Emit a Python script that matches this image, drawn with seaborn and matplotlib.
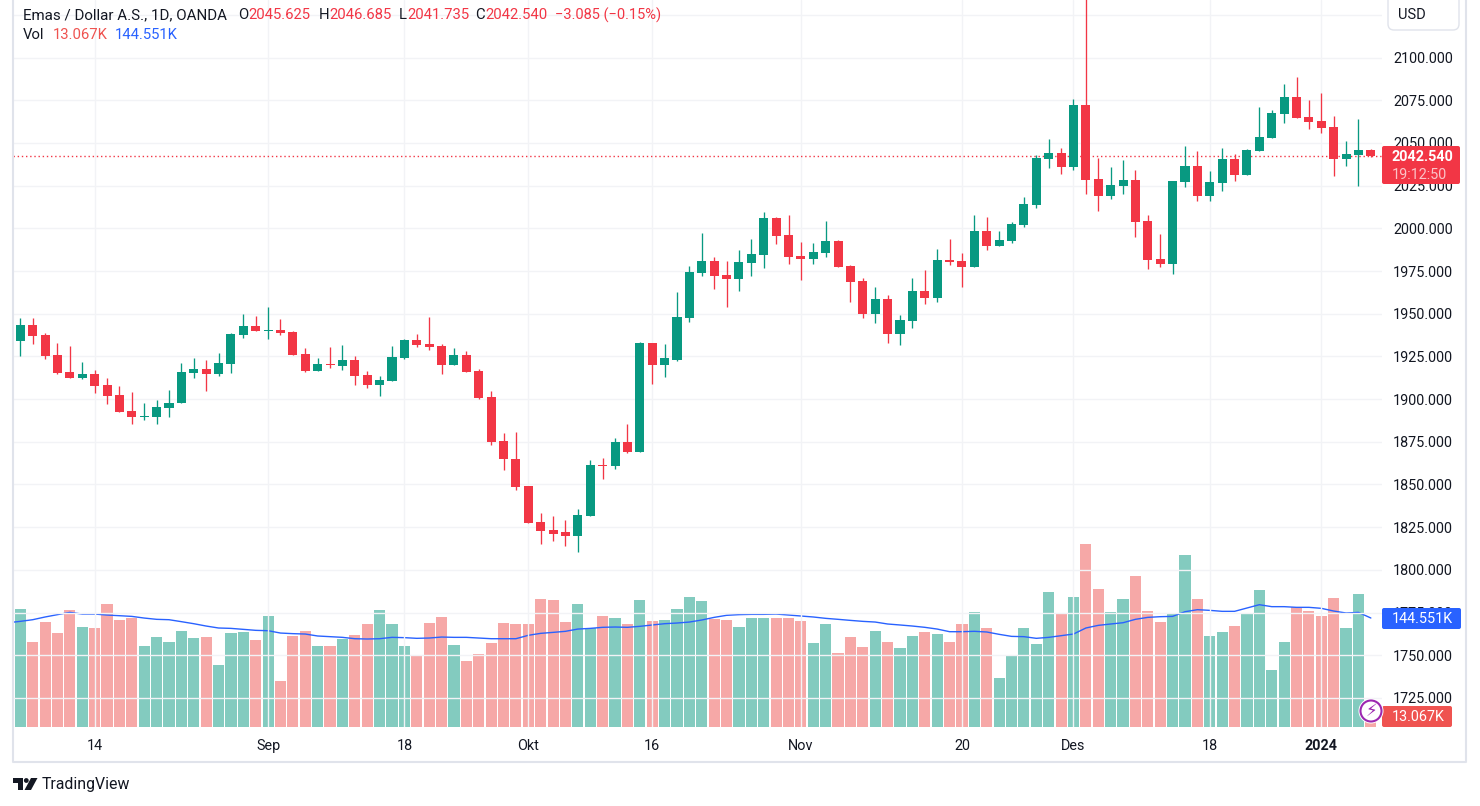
import numpy as np
import pandas as pd
import matplotlib
matplotlib.use("Agg")
import matplotlib.pyplot as plt
from matplotlib.patches import FancyBboxPatch, Circle, Polygon
import seaborn as sns

opens = [1933.8,1943.2,1937.3,1925.6,1915.6,1912.1,1914.5,1908.0,1902.2,1892.8,
         1889.3,1889.3,1894.5,1897.5,1915.0,1917.4,1914.5,1920.3,1937.3,1942.6,
         1939.6,1940.2,1939.1,1926.2,1916.2,1920.3,1919.1,1922.7,1913.9,1908.0,
         1910.4,1923.8,1934.4,1932.0,1930.9,1919.7,1925.6,1916.2,1901.0,1875.2,
         1865.2,1849.4,1828.3,1823.1,1821.9,1820.1,1831.8,1861.7,1860.6,1874.6,
         1868.8,1932.6,1919.7,1923.0,1947.5,1973.8,1980.9,1972.7,1970.3,1979.7,
         1984.4,2006.1,1996.1,1983.8,1982.0,1985.5,1992.6,1977.9,1969.1,1949.8,
         1958.6,1938.1,1945.7,1963.3,1959.2,1981.4,1980.9,1977.3,1998.4,1989.6,
         1992.6,2002.0,2013.7,2040.6,2044.1,2035.9,2072.3,2028.9,2019.0,2024.8,
         2028.3,2004.3,1982.0,1979.1,2027.2,2036.5,2019.0,2026.6,2040.6,2031.3,
         2045.3,2052.9,2067.0,2077.0,2065.2,2062.9,2059.4,2040.6,2043.0,2045.625]
closes = [1943.2,1936.7,1925.0,1915.0,1912.1,1914.5,1907.4,1901.6,1892.2,1889.3,
          1889.9,1895.1,1898.0,1915.6,1917.4,1914.5,1920.9,1937.9,1942.6,1939.6,
          1940.2,1938.5,1925.6,1916.2,1920.3,1919.7,1922.7,1913.3,1908.0,1910.9,
          1924.4,1934.4,1931.4,1930.3,1919.7,1925.6,1915.6,1900.4,1874.6,1864.7,
          1848.8,1827.7,1822.5,1821.3,1820.1,1832.4,1861.7,1860.6,1874.6,1868.8,
          1932.6,1919.7,1923.8,1948.0,1974.4,1980.9,1972.1,1970.3,1980.3,1985.0,
          2006.1,1995.5,1983.2,1982.0,1986.1,1992.6,1977.3,1968.6,1949.8,1958.6,
          1938.1,1946.3,1963.3,1959.2,1981.4,1980.3,1977.3,1998.4,1989.6,1993.2,
          2002.5,2014.3,2041.2,2044.1,2035.9,2072.3,2028.3,2019.0,2025.4,2028.3,
          2003.7,1981.5,1979.1,2027.7,2036.5,2019.0,2027.2,2040.6,2031.3,2045.9,
          2053.5,2067.6,2077.0,2064.6,2062.3,2058.8,2040.6,2043.6,2045.9,2042.54]
highs = [1947.3,1947.3,1938.5,1932.6,1930.9,1921.5,1916.8,1912.1,1907.4,1903.9,
         1897.5,1899.2,1905.1,1920.9,1923.8,1922.7,1926.8,1938.5,1949.6,1948.4,
         1953.7,1946.7,1939.6,1929.7,1923.8,1930.3,1931.4,1925.0,1916.2,1913.3,
         1930.9,1935.0,1937.9,1947.9,1932.0,1929.7,1927.9,1917.4,1904.5,1879.9,
         1880.5,1849.4,1833.6,1831.3,1829.5,1835.4,1864.1,1865.8,1877.5,1885.7,
         1933.2,1932.6,1932.0,1962.7,1977.9,1997.3,1983.2,1980.9,1987.3,1993.8,
         2009.6,2006.6,2007.8,1992.0,1991.4,2004.3,1993.2,1978.5,1970.9,1965.6,
         1960.9,1949.2,1970.9,1975.6,1987.9,1993.8,1985.6,2007.8,2006.6,1998.4,
         2003.7,2018.4,2043.0,2052.3,2047.1,2075.8,2135.0,2041.2,2035.9,2040.0,
         2034.2,2007.8,1996.7,2027.7,2048.2,2045.3,2033.6,2047.1,2043.6,2046.5,
         2071.1,2069.3,2084.6,2088.7,2075.2,2079.3,2065.8,2051.2,2064.1,2046.685]
lows = [1925.0,1932.0,1923.2,1914.5,1912.1,1911.5,1903.3,1896.9,1892.2,1885.7,
        1887.5,1885.2,1889.8,1897.5,1912.1,1904.5,1913.3,1915.0,1935.5,1939.6,
        1935.0,1937.3,1925.6,1915.6,1916.2,1918.0,1916.8,1908.0,1906.3,1901.6,
        1910.4,1923.2,1930.3,1928.5,1914.5,1919.7,1915.6,1899.8,1872.9,1858.2,
        1846.5,1827.7,1815.4,1817.2,1813.7,1810.7,1831.8,1853.5,1858.8,1868.2,
        1868.8,1908.6,1912.7,1922.5,1945.1,1972.1,1964.5,1953.9,1963.3,1972.1,
        1976.8,1990.8,1979.1,1969.7,1979.1,1983.2,1977.3,1956.8,1947.5,1944.5,
        1932.8,1931.6,1941.6,1955.7,1956.8,1978.5,1965.6,1977.3,1987.3,1989.6,
        1991.4,2000.8,2011.9,2035.4,2031.8,2034.2,2020.1,2010.2,2017.2,2020.1,
        1994.9,1976.2,1977.3,1973.2,2024.2,2016.0,2016.0,2021.9,2027.7,2031.3,
        2045.3,2052.9,2061.7,2064.6,2058.2,2055.9,2030.7,2036.5,2024.8,2041.735]
# volume in thousands
volumes = [156.0,112.3,138.8,124.2,154.7,132.2,130.8,162.7,141.4,144.1,
           107.0,118.9,112.3,126.9,117.6,118.9,81.8,124.2,125.5,114.9,
           146.7,60.6,120.2,126.9,107.0,107.0,116.2,121.6,136.1,154.7,
           136.1,107.0,93.7,137.5,145.4,108.3,87.1,96.4,110.9,137.5,
           136.1,136.1,169.3,168.0,138.8,162.7,130.8,146.7,144.1,136.1,
           168.0,140.1,141.4,156.0,171.9,166.6,142.8,141.4,132.2,144.1,
           144.1,144.1,144.1,140.1,110.9,136.1,97.7,118.9,105.6,126.9,
           112.3,104.3,120.2,125.5,122.9,112.3,136.1,152.0,130.8,64.5,
           93.7,130.8,109.6,178.6,150.7,171.9,242.2,182.5,152.0,169.3,
           199.8,153.4,138.8,150.7,227.6,169.3,120.2,125.5,133.5,150.7,
           181.2,75.1,112.3,158.7,153.4,146.7,170.6,130.8,175.9,13.067]
vol_ma = [140.1,142.3,145.9,149.0,152.0,149.8,149.8,148.5,147.6,146.7,
          144.5,142.8,142.3,139.7,137.0,133.9,131.3,130.8,129.5,128.2,
          127.7,124.6,123.8,123.3,120.7,119.8,118.9,117.1,116.7,117.1,
          118.9,118.5,117.6,118.0,119.3,118.9,118.9,118.0,117.1,117.1,
          117.1,121.6,124.2,125.5,126.9,129.9,130.8,132.2,132.6,132.2,
          133.5,135.3,137.0,137.9,139.2,141.9,145.4,148.1,149.0,149.4,
          149.4,149.8,148.5,147.2,145.9,144.1,142.8,141.4,140.1,139.2,
          136.6,135.3,133.9,132.2,129.9,126.4,126.4,126.9,126.0,122.9,
          120.2,119.8,117.6,118.9,121.1,123.3,131.3,134.8,136.6,138.3,
          142.8,145.4,146.3,146.7,152.9,155.6,154.7,153.4,153.4,157.8,
          162.2,159.6,159.6,158.7,158.7,157.4,153.8,151.2,152.0,144.551]
ma_before_first = 138.3
price_ticks = list(range(1725, 2150, 25))
time_tick_pos = [6, 20, 31, 41, 51, 63, 76, 85, 96, 105]
time_tick_labels = ["14", "Sep", "18", "Okt", "16", "Nov", "20", "Des", "18", "2024"]
last_price = 2042.54

GREEN, RED = "#089981", "#f23645"
VOL_GREEN, VOL_RED = "#089981", "#ef5350"
GRID = "#f2f3f6"
BORDER = "#e0e3eb"
TEXT = "#131722"
LEG = 10.7

sns.set_theme(style="white")
plt.rcParams["font.family"] = ["Roboto", "DejaVu Sans"]

df = pd.DataFrame({"i": range(len(opens)), "open": opens, "close": closes,
                   "high": highs, "low": lows, "vol": volumes, "ma": vol_ma})
df["dir"] = np.where(df["close"] >= df["open"], "up", "down")

W, H = 1480, 806
fig = plt.figure(figsize=(W / 100, H / 100), dpi=100, facecolor="white")
ax = fig.add_axes([13 / W, 1 - 727 / H, (1382 - 13) / W, 727 / H])

# volume pane shares the same frame, its own scale
ax_vol = ax.twinx()
sns.barplot(data=df, x="i", y="vol", hue="dir", palette={"up": VOL_GREEN, "down": VOL_RED},
            hue_order=["up", "down"], native_scale=True, dodge=False, width=0.9, saturation=1,
            alpha=0.5, linewidth=0, legend=False, ax=ax_vol)
sns.lineplot(x=[-1] + df["i"].tolist(), y=[ma_before_first] + vol_ma, color="#2962ff", lw=1, ax=ax_vol)
ax_vol.set_ylim(0, 964.2)
ax_vol.set_xlabel("")
ax_vol.set_ylabel("")
ax_vol.set_yticks([])
for s in ax_vol.spines.values():
    s.set_visible(False)

ax.set_xlim(-0.589, 109.9)
ax_vol.set_xlim(-0.589, 109.9)
ax.set_ylim(1708.0, 2133.7)
ax.yaxis.tick_right()
ax.set_yticks(price_ticks)
# the 2125 label sits behind the USD button in the reference
ax.set_yticklabels([f"{p:.3f}" if p < 2125 else "" for p in price_ticks])
ax.tick_params(axis="y", length=0, pad=8, labelsize=10.4, colors=TEXT)
ax.set_xticks(time_tick_pos)
ax.set_xticklabels(time_tick_labels)
ax.tick_params(axis="x", length=0, pad=8.5, labelsize=10.4, colors=TEXT)
ax.get_xticklabels()[-1].set_fontweight("bold")
ax.grid(True, color=GRID, lw=1)
ax.set_axisbelow(True)
for s in ax.spines.values():
    s.set_visible(False)

# candles above the volume
ax.set_zorder(ax_vol.get_zorder() + 1)
ax.patch.set_visible(False)
ax_vol.patch.set_visible(False)
colors = [GREEN if d == "up" else RED for d in df["dir"]]
ax.vlines(df["i"], df["low"], df["high"], colors=colors, lw=0.95, zorder=2)
ax.bar(df["i"], (df["close"] - df["open"]).abs(), bottom=df[["open", "close"]].min(axis=1),
       width=0.73, color=colors, linewidth=0, zorder=3)
ax.axhline(last_price, color=RED, lw=1, ls=(0, (1, 2)), zorder=1)

# interface parts in pixel coordinates
ui = fig.add_axes([0, 0, 1, 1], zorder=10)
ui.set_xlim(0, W)
ui.set_ylim(H, 0)
ui.axis("off")
ui.patch.set_visible(False)

ui.plot([13, 13, 1466, 1466], [0, 762, 762, 0], color=BORDER, lw=1.5)
ui.add_patch(FancyBboxPatch((1388, -8), 71, 38, boxstyle="round,pad=0,rounding_size=6",
                            fc="white", ec=BORDER, lw=1))
ui.text(1398, 15, "USD", fontsize=10.5, color=TEXT, va="center")

# legend rows
ui.text(23, 15, "Emas / Dollar A.S., 1D, OANDA", fontsize=10.9, color=TEXT, va="center")
for x, lab, val in [(238, "O", "2045.625"), (319, "H", "2046.685"), (399, "L", "2041.735"), (475, "C", "2042.540")]:
    ui.text(x, 15, lab, fontsize=LEG, color=TEXT, va="center")
    ui.text(x + 10 if lab != "L" else x + 8, 15, val, fontsize=LEG, color=RED, va="center")
ui.text(555, 15, "−3.085 (−0.15%)", fontsize=10.5, color=RED, va="center")
ui.text(23, 35, "Vol", fontsize=LEG, color=TEXT, va="center")
ui.text(53, 35, "13.067K", fontsize=LEG, color="#ef5350", va="center")
ui.text(115, 35, "144.551K", fontsize=LEG, color="#2962ff", va="center")

# price and volume labels
ui.add_patch(FancyBboxPatch((1382, 146), 78, 38, boxstyle="round,pad=0,rounding_size=2", fc=RED, ec="none"))
ui.text(1392, 157, "2042.540", fontsize=10.4, color="white", weight="bold", va="center")
ui.text(1392, 175, "19:12:50", fontsize=10.4, color="#fbc3c7", va="center")
ui.add_patch(FancyBboxPatch((1382, 608), 79, 21, boxstyle="round,pad=0,rounding_size=2", fc="#2962ff", ec="none"))
ui.text(1392, 619, "144.551K", fontsize=10.4, color="white", va="center")
ui.add_patch(FancyBboxPatch((1382, 706), 70, 21, boxstyle="round,pad=0,rounding_size=2", fc="#ef5350", ec="none"))
ui.text(1392, 717, "13.067K", fontsize=10.4, color="white", va="center")

# lightning badge
ui.add_patch(Circle((1371, 711), 12.5, fc="white", ec="none"))
ui.add_patch(Circle((1371, 711), 10.5, fc="white", ec="#9c27b0", lw=1.5))
ui.text(1371, 711.5, "\u26a1", family="DejaVu Sans", fontsize=12, color="#9c27b0", ha="center", va="center")

# TradingView logo
ui.add_patch(Polygon([(13, 778), (23, 778), (23, 790), (18, 790), (18, 783), (13, 783)], fc=TEXT, ec="none"))
ui.add_patch(Circle((26.3, 780.5), 2.4, fc=TEXT, ec="none"))
ui.add_patch(Polygon([(31, 778), (37.5, 778), (31, 790), (24.5, 790)], fc=TEXT, ec="none"))
ui.text(42, 785, "TradingView", fontsize=11.4, color=TEXT, va="center")

fig.savefig("out.png", dpi=100, facecolor="white")
